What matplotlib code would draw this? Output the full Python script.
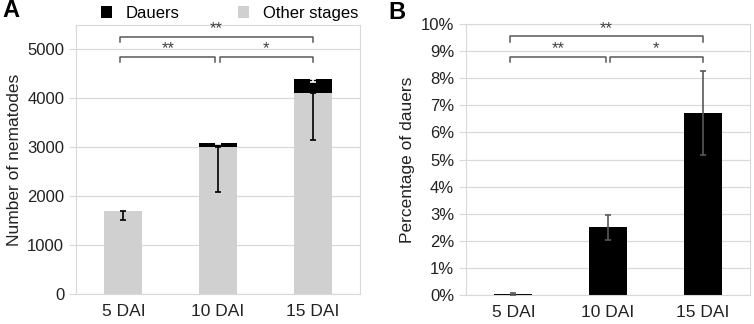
import matplotlib.pyplot as plt
import numpy as np

plt.rcParams['font.family'] = ['Liberation Sans', 'DejaVu Sans']

# data
days = ['5 DAI', '10 DAI', '15 DAI']
other_stages = [1700, 3010, 4100]
dauers = [2, 75, 280]
other_err = [180, 930, 960]
dauer_err = [1, 20, 60]

pct_dauers = [0.04, 2.5, 6.7]
pct_err = [0.03, 0.46, 1.55]

grid_c = '#d9d9d9'
gray_bar = '#d0d0d0'
br_c = '#595959'

fig = plt.figure(figsize=(7.54, 3.24), dpi=100)
axA = fig.add_axes([76/754, 30/324, 284/754, 269/324])
axB = fig.add_axes([466/754, 29/324, 284/754, 271/324])

x = np.arange(len(days))
w = 0.4


def style(ax):
    ax.set_axisbelow(True)
    ax.yaxis.grid(True, color=grid_c, lw=0.9)
    for s in ax.spines.values():
        s.set_color(grid_c)
    ax.tick_params(axis='y', color=grid_c, length=5, labelsize=12, labelcolor='#222222')
    ax.tick_params(axis='x', length=0, labelsize=12.5, labelcolor='#222222', pad=7)
    ax.set_xlim(-0.5, 2.5)
    ax.set_xticks(x)
    ax.set_xticklabels(days)


def bracket(ax, x1, x2, y, h, label):
    ax.plot([x1, x1, x2, x2], [y - h, y, y, y - h], color=br_c, lw=1.1, clip_on=False)
    ax.text((x1 + x2) / 2, y + h * 0.1, label, ha='center', va='bottom',
            fontsize=12, color='#404040')


# panel A
style(axA)
axA.bar(x, other_stages, w, color=gray_bar, label='Other stages', zorder=2)
axA.bar(x, dauers, w, bottom=other_stages, color='black', label='Dauers', zorder=2)
axA.errorbar(x, other_stages, yerr=[other_err, [0, 0, 0]], fmt='none',
             ecolor='black', elinewidth=1.2, capsize=2, capthick=1.2, zorder=3)
tops = np.array(other_stages) + np.array(dauers)
axA.errorbar(x[1:], tops[1:], yerr=[dauer_err[1:], [0, 0]], fmt='none',
             ecolor='white', elinewidth=1.2, capsize=2, capthick=1.2, zorder=3)
axA.set_ylim(0, 5490)
axA.set_yticks(range(0, 5001, 1000))
axA.set_ylabel('Number of nematodes', fontsize=12.5, color='#222222', labelpad=4)
bracket(axA, -0.03, 0.97, 4840, 100, '**')
bracket(axA, 1.02, 2.0, 4840, 100, '*')
bracket(axA, -0.03, 2.0, 5245, 100, '**')
h, l = axA.get_legend_handles_labels()
axA.legend(h[::-1], l[::-1], loc='lower center', bbox_to_anchor=(0.54, 0.985), ncol=2,
           frameon=False, fontsize=12, handlelength=0.7, handleheight=0.7,
           columnspacing=3.5, handletextpad=0.8, borderpad=0)

# panel B
style(axB)
axB.bar(x, pct_dauers, w, color='black', zorder=2)
axB.errorbar(x, pct_dauers, yerr=pct_err, fmt='none', ecolor=br_c,
             elinewidth=1.2, capsize=2.5, capthick=1.2, zorder=3)
axB.set_ylim(0, 10)
axB.set_yticks(range(0, 11))
axB.set_yticklabels([f'{v}%' for v in range(0, 11)])
axB.set_ylabel('Percentage of dauers', fontsize=12.5, color='#222222', labelpad=4)
bracket(axB, -0.03, 0.98, 8.8, 0.2, '**')
bracket(axB, 1.02, 2.0, 8.8, 0.2, '*')
bracket(axB, -0.03, 2.0, 9.54, 0.2, '**')

fig.text(2/754, 1 - 17/324, 'A', fontsize=17, fontweight='bold')
fig.text(388/754, 1 - 19/324, 'B', fontsize=17, fontweight='bold')

fig.savefig('out.png', dpi=100)
